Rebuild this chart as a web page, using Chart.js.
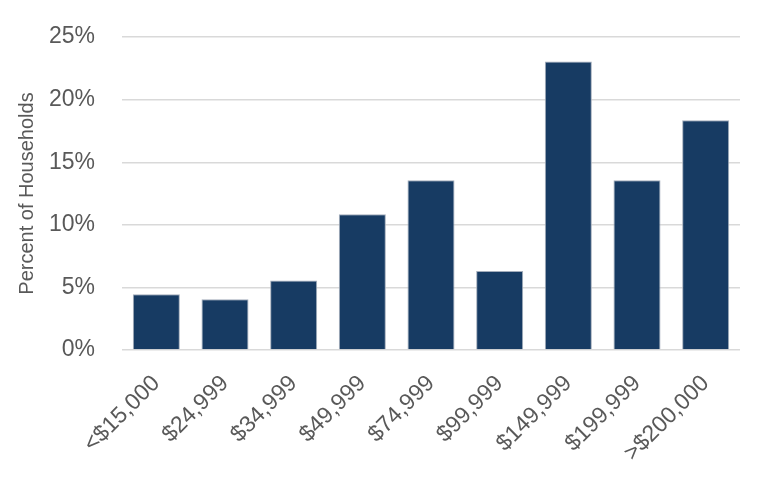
<!DOCTYPE html>
<html>
<head>
<meta charset="utf-8">
<script src="https://cdn.jsdelivr.net/npm/chart.js@4/dist/chart.umd.min.js"></script>
<style>
  html, body { margin: 0; padding: 0; background: #fff; }
  #box { width: 768px; height: 489px; }
</style>
</head>
<body>
<div id="box"><canvas id="grafico"></canvas></div>
<script>
const categorias = ["<$15,000", "$24,999", "$34,999", "$49,999", "$74,999", "$99,999", "$149,999", "$199,999", ">$200,000"];
const percentagens = [4.45, 4.05, 5.55, 10.85, 13.55, 6.3, 23.05, 13.55, 18.35];
const ticksY = [0, 5, 10, 15, 20, 25];

const cinza = "#595959";

new Chart(document.getElementById("grafico"), {
  type: "bar",
  data: {
    labels: categorias,
    datasets: [{
      data: percentagens,
      backgroundColor: "#173b63",
      borderColor: "#a3adbb",
      borderWidth: 1,
      barPercentage: 0.685,
      categoryPercentage: 1
    }]
  },
  options: {
    responsive: true,
    maintainAspectRatio: false,
    animation: false,
    layout: { padding: { top: 37, right: 28, left: 15, bottom: 0 } },
    plugins: {
      legend: { display: false },
      tooltip: { enabled: false }
    },
    scales: {
      x: {
        grid: { display: false },
        border: { display: false },
        ticks: {
          color: cinza,
          font: { family: "Liberation Sans", size: 23 },
          minRotation: 45,
          maxRotation: 45,
          padding: 12,
          autoSkip: false
        },
        afterFit: escala => { escala.height = 139; }
      },
      y: {
        min: 0,
        max: 25,
        afterBuildTicks: escala => { escala.ticks = ticksY.map(v => ({ value: v })); },
        // marcas invisíveis só para afastar os rótulos do eixo
        grid: { color: "#d9d9d9", lineWidth: 1.4, drawTicks: true, tickLength: 17, tickColor: "rgba(0,0,0,0)" },
        border: { display: false },
        title: {
          display: true,
          text: "Percent of Households",
          color: cinza,
          font: { family: "Liberation Sans", size: 20 },
          padding: 0
        },
        ticks: {
          color: cinza,
          font: { family: "Liberation Sans", size: 23 },
          padding: 10,
          callback: v => `${v}%`
        },
        afterFit: escala => { escala.width = 107; }
      }
    }
  }
});
</script>
</body>
</html>
